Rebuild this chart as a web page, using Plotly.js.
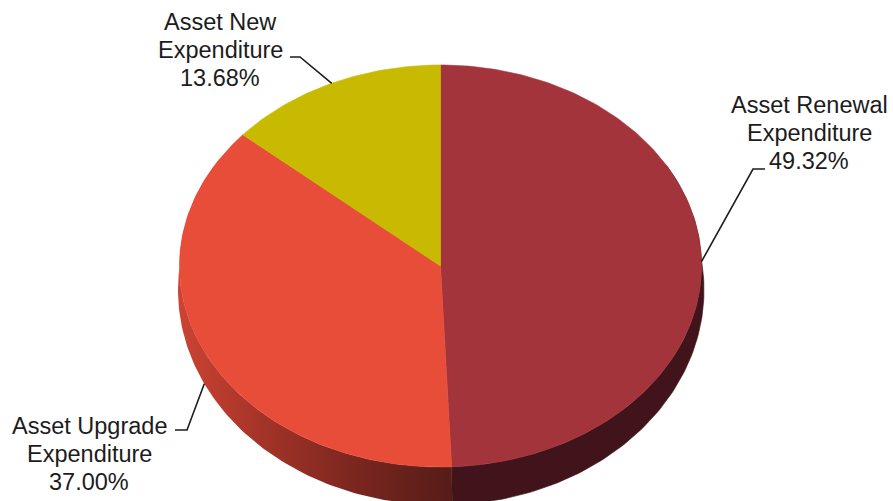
<!DOCTYPE html>
<html>
<head>
<meta charset="utf-8">
<script src="https://cdn.plot.ly/plotly-3.0.1.min.js"></script>
<style>html,body{margin:0;padding:0;background:#fff;}#chart{width:893px;height:501px;}</style>
</head>
<body>
<div id="chart"></div>
<script>
// ---- data ----
const categories = ['Asset Renewal Expenditure', 'Asset Upgrade Expenditure', 'Asset New Expenditure'];
const shares = [49.32, 37.00, 13.68];
const pctLabels = ['49.32%', '37.00%', '13.68%'];

// ---- styles ----
const topColors = ['#A3343B', '#E84D3A', '#C8BA00'];
const sideColors = ['#40141A', null, null];
const upgradeSideScale = [[0, '#CC4433'], [0.3, '#A53428'], [0.65, '#7A261F'], [1, '#561C18']];
const textColor = '#1c1c1c';
const fontFamily = 'Liberation Sans, Arial, sans-serif';
const fontSize = 23.5;
const lineGap = 28;

// ---- geometry (pixel space) ----
const W = 893, H = 501;
const TOP = {cx: 440.5, cy: 266, rx: 261, ry: 201};
const BOT = {cx: 441, cy: 290, rx: 263, ry: 215};
// label placement: centre x, first baseline, elbow, end of leader
const labelPlace = [
  {x: 809, base: 113, elbow: [753, 169], end: [765, 169]},
  {x: 89, base: 434, elbow: [187, 430], end: [175, 430]},
  {x: 220, base: 30, elbow: [300, 57], end: [290, 57]}
];

function pt(e, deg) {
  const r = deg * Math.PI / 180;
  return [e.cx + e.rx * Math.sin(r), e.cy - e.ry * Math.cos(r)];
}
function arc(e, a0, a1) {
  const pts = [];
  const n = Math.max(2, Math.ceil(Math.abs(a1 - a0)));
  for (let i = 0; i <= n; i++) pts.push(pt(e, a0 + (a1 - a0) * i / n));
  return pts;
}

const total = shares.reduce((a, b) => a + b, 0);
const slices = [];
let acc = 0;
shares.forEach((v, i) => {
  const a0 = acc / total * 360;
  acc += v;
  const a1 = acc / total * 360;
  slices.push({a0, a1, mid: (a0 + a1) / 2, i});
});

const traces = [];
// sides (visible lower half, with some slack hidden under the top face)
slices.forEach(s => {
  const lo = Math.max(s.a0, 60), hi = Math.min(s.a1, 300);
  if (hi <= lo) return;
  const topArc = arc(TOP, lo, hi);
  const botArc = arc(BOT, hi, lo);
  const poly = topArc.concat(botArc);
  poly.push(poly[0]);
  const t = {
    type: 'scatter', mode: 'lines', fill: 'toself',
    x: poly.map(p => p[0]), y: poly.map(p => p[1]),
    line: {width: 0}, hoverinfo: 'skip', showlegend: false
  };
  if (sideColors[s.i]) {
    t.fillcolor = sideColors[s.i];
    t.line = {width: 0.6, color: sideColors[s.i]};
  } else {
    t.fillcolor = '#8B2A22';
    t.fillgradient = {type: 'horizontal', colorscale: upgradeSideScale};
  }
  traces.push(t);
});
// top faces
slices.forEach(s => {
  const poly = [[TOP.cx, TOP.cy]].concat(arc(TOP, s.a0, s.a1));
  poly.push(poly[0]);
  traces.push({
    type: 'scatter', mode: 'lines', fill: 'toself',
    x: poly.map(p => p[0]), y: poly.map(p => p[1]),
    fillcolor: topColors[s.i], line: {width: 0.6, color: topColors[s.i]},
    hoverinfo: 'skip', showlegend: false
  });
});
// leader lines
slices.forEach(s => {
  const r = s.mid * Math.PI / 180;
  const anchor = Math.cos(r) < 0 ? pt(BOT, s.mid) : pt(TOP, s.mid);
  const lp = labelPlace[s.i];
  const pts = [anchor, lp.elbow, lp.end];
  traces.push({
    type: 'scatter', mode: 'lines',
    x: pts.map(p => p[0]), y: pts.map(p => p[1]),
    line: {width: 1.6, color: textColor}, hoverinfo: 'skip', showlegend: false
  });
});

// labels, one annotation per line
const annotations = [];
categories.forEach((name, i) => {
  const k = name.lastIndexOf(' ');
  const lines = [name.slice(0, k), name.slice(k + 1), pctLabels[i]];
  const lp = labelPlace[i];
  lines.forEach((ln, j) => {
    annotations.push({
      x: lp.x, y: lp.base + j * lineGap - 8, xref: 'x', yref: 'y',
      text: ln, showarrow: false, xanchor: 'center', yanchor: 'middle',
      font: {family: fontFamily, size: fontSize, color: textColor}
    });
  });
});

const layout = {
  width: W, height: H,
  margin: {l: 0, r: 0, t: 0, b: 0},
  paper_bgcolor: '#ffffff', plot_bgcolor: '#ffffff',
  xaxis: {range: [0, W], visible: false, fixedrange: true},
  yaxis: {range: [H, 0], visible: false, fixedrange: true},
  annotations: annotations,
  showlegend: false
};
Plotly.newPlot('chart', traces, layout, {staticPlot: true, displayModeBar: false});
</script>
</body>
</html>
